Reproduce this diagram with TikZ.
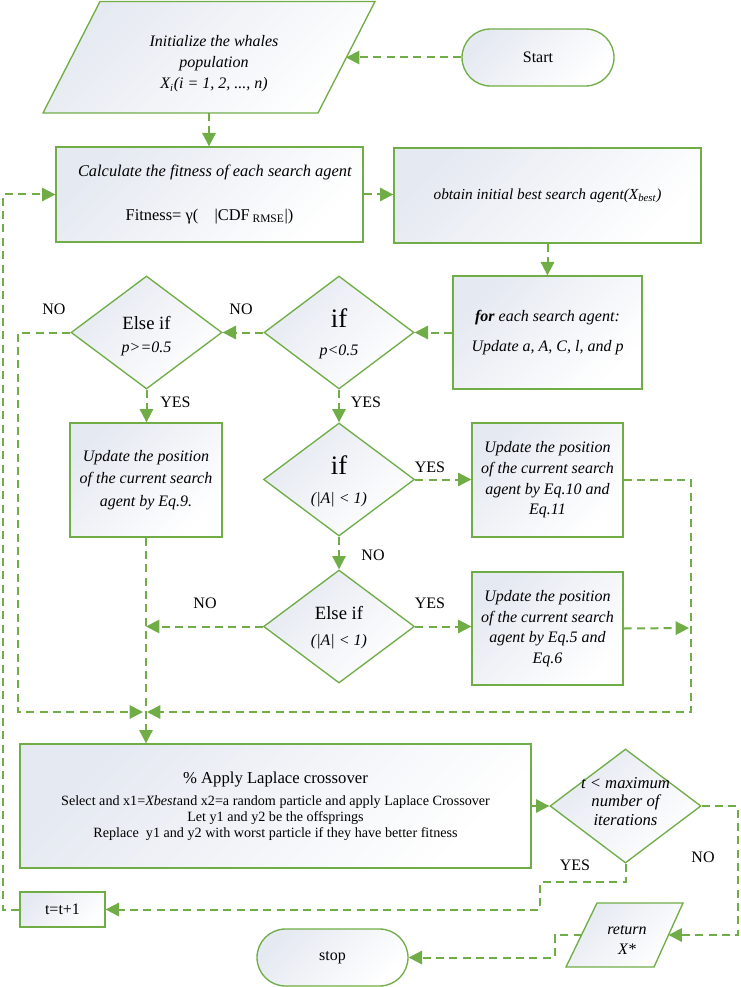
\documentclass[tikz,border=0pt]{standalone}
\usepackage{fontspec}
\setmainfont{Liberation Serif}
\usetikzlibrary{shapes.geometric,shapes.misc,arrows.meta}
\definecolor{lg}{RGB}{112,173,71}
\definecolor{fc}{RGB}{229,233,241}
\newcommand\fsz[2]{\fontsize{#1}{#2}\selectfont}
\begin{document}
\begin{tikzpicture}[x=0.75pt,y=-0.75pt,
  box/.style={draw=lg,line width=1pt,top color=fc,bottom color=white,shading angle=45,inner sep=0pt,align=center},
  dia/.style={box,diamond},
  term/.style={box,rounded rectangle},
  con/.style={draw=lg,line width=1.5pt,dash pattern=on 6pt off 4pt,-{Triangle[length=10pt,width=10pt]}},
  lbl/.style={font=\fsz{12}{14},inner sep=0pt},
  itx/.style={font=\itshape\fsz{12}{16},inner sep=0pt,align=center},
]
\useasboundingbox (0,0) rectangle (740,987);

% ---- shapes ----
\shade[draw=lg,line width=1pt,top color=fc,bottom color=white,shading angle=45]
  (43,113) -- (318,113) -- (375,1.5) -- (100,1.5) -- cycle;
\node[itx] (init) at (214,63.5) {Initialize the whales\\population\\X\textsubscript{i}(i = 1, 2, ..., n)};
\coordinate (initR) at (346,57.5);
\coordinate (initB) at (209,113);

\node[term,minimum width=114pt,minimum height=42.75pt,font=\fsz{12}{14}] (start) at (538,57.5) {Start};

\node[box,minimum width=230.25pt,minimum height=71.25pt,font=\fsz{12.3}{16}] (fit) at (209.5,194.5)
  {\hspace*{8pt}\itshape Calculate the fitness of each search agent\\[17pt]Fitness= γ(\quad |CDF\,\textsubscript{RMSE}|)};
\node[box,minimum width=230.25pt,minimum height=71.25pt,font=\itshape\fsz{11.5}{14}] (obt) at (547.5,195.5)
  {obtain initial best search agent(X\textsubscript{best})};

\node[box,minimum width=141.75pt,minimum height=84.75pt,font=\itshape\fsz{12}{16}] (for) at (547.5,332.5)
  {\textbf{for} each search agent:\\[6.5pt]Update a, A, C, l, and p};

\node[dia,minimum width=112.5pt,minimum height=84.75pt] (if1) at (339,332.5) {};
\node[font=\fsz{20}{20},inner sep=0pt] (if1a) at (339,318) {if};
\node[font=\itshape\fsz{12}{14},inner sep=0pt] (if1b) at (339,352) {p<0.5};

\node[dia,minimum width=113.25pt,minimum height=84.75pt] (ei1) at (146.5,332.5) {};
\node[font=\fsz{14}{16},inner sep=0pt] (ei1a) at (146.5,323) {Else if};
\node[font=\itshape\fsz{12}{14},inner sep=0pt] (ei1b) at (146.5,349) {p>=0.5};

\node[box,minimum width=114pt,minimum height=85.5pt,font=\itshape\fsz{12}{17}] (eq9) at (146,480)
  {Update the position\\of the current search\\agent by Eq.9.};

\node[dia,minimum width=113.25pt,minimum height=84.75pt] (if2) at (339,479.5) {};
\node[font=\fsz{20}{20},inner sep=0pt] (if2a) at (339,465) {if};
\node[font=\itshape\fsz{12}{14},inner sep=0pt] (if2b) at (339,500) {(|A| < 1)};

\node[box,minimum width=113.25pt,minimum height=85.5pt,font=\itshape\fsz{12}{15.5}] (eq10) at (547.5,480)
  {Update the position\\of the current search\\agent by Eq.10 and\\Eq.11};

\node[dia,minimum width=113.25pt,minimum height=84.75pt] (ei2) at (339,626.5) {};
\node[font=\fsz{14}{16},inner sep=0pt] (ei2a) at (339,613) {Else if};
\node[font=\itshape\fsz{12}{14},inner sep=0pt] (ei2b) at (339,642) {(|A| < 1)};

\node[box,minimum width=113.25pt,minimum height=84.75pt,font=\itshape\fsz{12}{15.5}] (eq5) at (547.5,628.5)
  {Update the position\\of the current search\\agent by Eq.5 and\\Eq.6};

\node[box,minimum width=383.25pt,minimum height=93pt,font=\fsz{10.6}{12}] (lap) at (275.5,806)
  {{\fsz{12.5}{15}\% Apply Laplace crossover}\\[4.5pt]
   Select and x1=\textit{Xbest}and x2=a random particle and apply Laplace Crossover\\
   Let y1 and y2 be the offsprings\\
   Replace\ \ y1 and y2 with worst particle if they have better fitness};

\node[dia,minimum width=113.25pt,minimum height=85.5pt] (tdia) at (625.5,806) {};
\node[font=\itshape\fsz{12.5}{14},inner sep=0pt,align=center] (tdiaT) at (625.5,801.5) {t < maximum\\number of\\iterations};

\node[box,minimum width=63.75pt,minimum height=26.25pt,font=\fsz{12}{14}] (tinc) at (62.5,909.5) {t=t+1};

\shade[draw=lg,line width=1pt,top color=fc,bottom color=white,shading angle=45]
  (566,967) -- (654,967) -- (683,903) -- (597,903) -- cycle;
\node[itx,font=\itshape\fsz{12}{15}] (ret) at (627,940) {return\\X*};
\coordinate (retR) at (668.5,935);
\coordinate (retL) at (581.5,935);

\node[term,minimum width=113.25pt,minimum height=42.75pt,font=\fsz{12}{14}] (stop) at (332.5,957.5) {stop};

% ---- helper coordinates ----
\coordinate (rc) at (691,712);
\coordinate (lc) at (18,712);
\coordinate (jr) at (147,712);
\coordinate (jl) at (143,712);
\coordinate (rl) at (689,628);
\coordinate (y1) at (625.5,882);
\coordinate (y2) at (540,909.5);
\coordinate (n1) at (738,935);
\coordinate (s2) at (554.5,957.5);
\coordinate (lp1) at (3,909.5);
\coordinate (lp2) at (3,194.5);

% ---- connectors ----
\draw[con] (start.west) -- (initR);
\draw[con] (initB) -- (initB |- fit.north);
\draw[con] (fit.east) -- (fit.east -| obt.west);
\draw[con] (obt.south) -- (for.north);
\draw[con] (for.west) -- (if1.east);
\draw[con] (if1.west) -- (ei1.east);
\draw[con] (ei1.south) -- (ei1.south |- eq9.north);
\draw[con] (if1.south) -- (if2.north);
\draw[con] (if2.east) -- (if2.east -| eq10.west);
\draw[con] (if2.south) -- (ei2.north);
\draw[con] (ei2.east) -- (ei2.east -| eq5.west);
\draw[con] (ei2.west) -- (ei2.west -| eq9.south);
\draw[con] (eq5.east) -- (rl);
\draw[con] (eq10.east) -| (rc) -- (jr);
\draw[con] (ei1.west) -| (lc) -- (jl);
\draw[con] (eq9.south) -- (eq9.south |- lap.north);
\draw[con] (lap.east) -- (tdia.west);
\draw[con] (tdia.south) -- (y1) -| (y2) -- (tinc.east);
\draw[con] (tdia.east) -| (n1) -- (retR);
\draw[con] (retL) -| (s2) -- (stop.east);
\draw[con] (tinc.west) -- (lp1) -- (lp2) -- (fit.west);

% ---- labels ----
\node[lbl] (no1) at (241,309) {NO};
\node[lbl] (no2) at (54,309) {NO};
\node[lbl] (yes1) at (175.5,402) {YES};
\node[lbl] (yes2) at (366,402) {YES};
\node[lbl] (yes3) at (430,467) {YES};
\node[lbl] (no3) at (373,555) {NO};
\node[lbl] (no4) at (205,603) {NO};
\node[lbl] (yes4) at (430,603) {YES};
\node[lbl] (yes5) at (575,865) {YES};
\node[lbl] (no5) at (703,857) {NO};
\end{tikzpicture}
\end{document}
